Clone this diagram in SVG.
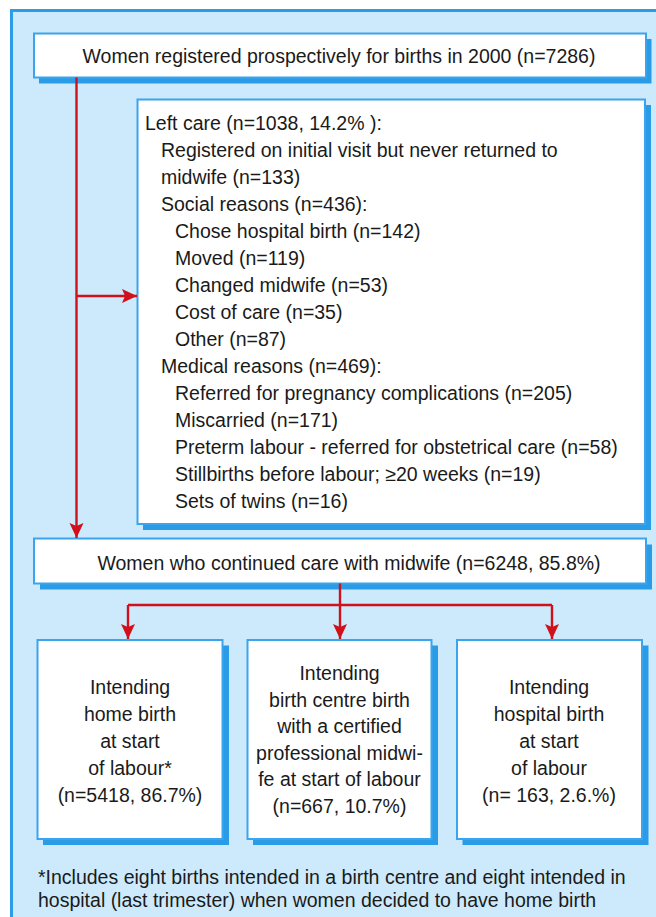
<svg xmlns="http://www.w3.org/2000/svg" width="656" height="917" viewBox="0 0 656 917">
<defs>
<style>
.frame{fill:#cdeafc;stroke:#2b9de8;stroke-width:3}
.box{fill:#ffffff;stroke:#3aa4ec;stroke-width:2}
.shadow{fill:#2a9be6}
.t{font-family:"Liberation Sans",Arial,Helvetica,sans-serif;font-size:19.5px;fill:#1a1a1a}
.m{text-anchor:middle}
.conn{fill:none;stroke:#d0101a;stroke-width:2.4}
</style>
<marker id="arr" markerUnits="userSpaceOnUse" markerWidth="16" markerHeight="16" viewBox="0 -8 16 16" refX="15" refY="0" orient="auto">
<path d="M0,-7 L15,0 L0,7 L3,0 Z" fill="#d0101a"/>
</marker>
</defs>
<rect class="frame" x="11.5" y="10.5" width="670" height="930"/>

<g id="registered">
<rect class="shadow" x="39" y="39" width="612.5" height="44.5"/>
<rect class="box" x="34" y="33.5" width="612" height="44"/>
<text class="t m" x="339" y="63">Women registered prospectively for births in 2000 (n=7286)</text>
</g>

<g id="left-care">
<rect class="shadow" x="143" y="105" width="508" height="425"/>
<rect class="box" x="137.5" y="99.5" width="507.5" height="424.5"/>
<text class="t" x="145" y="129.5">Left care (n=1038, 14.2% ):</text>
<text class="t" x="161" y="156.5">Registered on initial visit but never returned to</text>
<text class="t" x="161" y="183.5">midwife (n=133)</text>
<text class="t" x="161" y="210.5">Social reasons (n=436):</text>
<text class="t" x="175" y="237.5">Chose hospital birth (n=142)</text>
<text class="t" x="175" y="264.5">Moved (n=119)</text>
<text class="t" x="175" y="291.5">Changed midwife (n=53)</text>
<text class="t" x="175" y="318.5">Cost of care (n=35)</text>
<text class="t" x="175" y="345.5">Other (n=87)</text>
<text class="t" x="161" y="372.5">Medical reasons (n=469):</text>
<text class="t" x="175" y="399.5">Referred for pregnancy complications (n=205)</text>
<text class="t" x="175" y="426.5">Miscarried (n=171)</text>
<text class="t" x="175" y="453.5">Preterm labour - referred for obstetrical care (n=58)</text>
<text class="t" x="175" y="480.5">Stillbirths before labour; ≥20 weeks (n=19)</text>
<text class="t" x="175" y="507.5">Sets of twins (n=16)</text>
</g>

<g id="continued">
<rect class="shadow" x="40" y="544.5" width="612" height="45"/>
<rect class="box" x="34" y="538.5" width="612" height="45"/>
<text class="t m" x="349" y="570">Women who continued care with midwife (n=6248, 85.8%)</text>
</g>

<g id="home">
<rect class="shadow" x="43" y="645.5" width="186" height="199.5"/>
<rect class="box" x="37.5" y="640" width="185" height="199"/>
<text class="t m" x="130" y="693.5">Intending</text>
<text class="t m" x="130" y="720.5">home birth</text>
<text class="t m" x="130" y="747.5">at start</text>
<text class="t m" x="130" y="774.5">of labour*</text>
<text class="t m" x="130" y="801.5">(n=5418, 86.7%)</text>
</g>

<g id="centre">
<rect class="shadow" x="253" y="645.5" width="185" height="199.5"/>
<rect class="box" x="247.5" y="640" width="184" height="199"/>
<text class="t m" x="339.5" y="680">Intending</text>
<text class="t m" x="339.5" y="706.6">birth centre birth</text>
<text class="t m" x="339.5" y="733.2">with a certified</text>
<text class="t m" x="339.5" y="759.8">professional midwi-</text>
<text class="t m" x="339.5" y="786.4">fe at start of labour</text>
<text class="t m" x="339.5" y="813">(n=667, 10.7%)</text>
</g>

<g id="hospital">
<rect class="shadow" x="462.5" y="645.5" width="186" height="199.5"/>
<rect class="box" x="457" y="640" width="185" height="199"/>
<text class="t m" x="549" y="693.5">Intending</text>
<text class="t m" x="549" y="720.5">hospital birth</text>
<text class="t m" x="549" y="747.5">at start</text>
<text class="t m" x="549" y="774.5">of labour</text>
<text class="t m" x="549" y="801.5">(n= 163, 2.6.%)</text>
</g>

<g id="connectors">
<path class="conn" d="M76.5,77.5 V538" marker-end="url(#arr)"/>
<path class="conn" d="M76.5,296 H137" marker-end="url(#arr)"/>
<path class="conn" d="M340,583.5 V605"/>
<path class="conn" d="M128,605 H552"/>
<path class="conn" d="M128,605 V639" marker-end="url(#arr)"/>
<path class="conn" d="M340,605 V639" marker-end="url(#arr)"/>
<path class="conn" d="M552,605 V639" marker-end="url(#arr)"/>
</g>

<g id="footnote">
<text class="t" x="38" y="883.5">*Includes eight births intended in a birth centre and eight intended in</text>
<text class="t" x="38" y="907">hospital (last trimester) when women decided to have home birth</text>
</g>
</svg>
